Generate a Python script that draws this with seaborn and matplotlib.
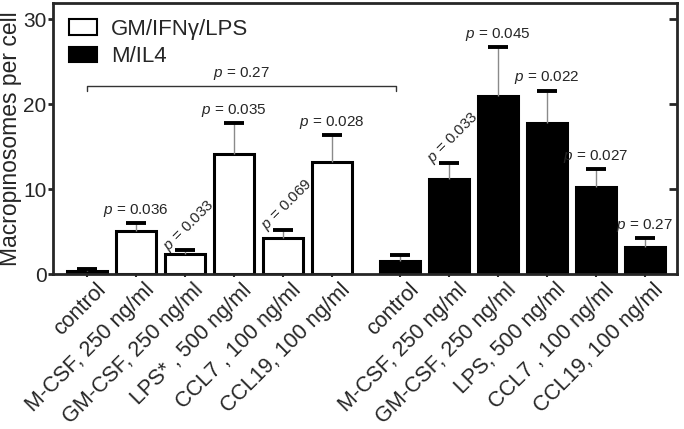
import numpy as np
import pandas as pd
import matplotlib
matplotlib.use("Agg")
import matplotlib.pyplot as plt
import seaborn as sns
from matplotlib.patches import Patch

# values (mean +/- SEM, macropinosomes per cell)
groups = ["GM/IFNγ/LPS", "M/IL4"]

labels_gm = ["control", "M-CSF, 250 ng/ml", "GM-CSF, 250 ng/ml",
             "LPS* , 500 ng/ml", "CCL7 , 100 ng/ml", "CCL19, 100 ng/ml"]
labels_m = ["control", "M-CSF, 250 ng/ml", "GM-CSF, 250 ng/ml",
            "LPS, 500 ng/ml", "CCL7 , 100 ng/ml", "CCL19, 100 ng/ml"]

means_gm = [0.4, 5.1, 2.4, 14.1, 4.2, 13.2]
sem_gm = [0.15, 0.9, 0.4, 3.7, 1.0, 3.2]
means_m = [1.6, 11.2, 20.9, 17.8, 10.3, 3.2]
sem_m = [0.6, 1.9, 5.8, 3.8, 2.1, 1.0]

pvals_gm = ["", "0.036", "0.033", "0.035", "0.069", "0.028"]
pvals_m = ["", "0.033", "0.045", "0.022", "0.027", "0.27"]
p_controls = "0.27"

# which p labels are drawn tilted
tilt_gm = [False, False, True, False, True, False]
tilt_m = [False, True, False, False, False, False]

GAP = 6.4  # where the second group starts on the x axis

df = pd.DataFrame({
    "pos": list(np.arange(6)) + list(np.arange(6) + GAP),
    "mean": means_gm + means_m,
    "sem": sem_gm + sem_m,
    "group": [groups[0]] * 6 + [groups[1]] * 6,
    "label": labels_gm + labels_m,
    "p": pvals_gm + pvals_m,
    "tilt": tilt_gm + tilt_m,
})

sns.set_style("ticks")
plt.rcParams["font.family"] = ["Liberation Sans", "DejaVu Sans"]
plt.rcParams["mathtext.fontset"] = "custom"
plt.rcParams["mathtext.it"] = "Liberation Sans:italic"
plt.rcParams["mathtext.rm"] = "Liberation Sans"

fig = plt.figure(figsize=(6.84, 4.29), dpi=100)
ax = fig.add_axes([0.0775, 0.361, 0.912, 0.632])

pal = {groups[0]: "white", groups[1]: "black"}
sns.barplot(data=df, x="pos", y="mean", hue="group", native_scale=True,
            dodge=False, palette=pal, edgecolor="black", linewidth=2.2,
            width=0.82, errorbar=None, legend=False, ax=ax)

# error bars: thin grey stem, thick black cap
tops = df["mean"] + df["sem"]
ax.vlines(df["pos"], df["mean"], tops, color="#8a8a8a", lw=1, zorder=3)
ax.plot(df["pos"], tops, ls="none", marker="_", ms=14, mew=2.8,
        color="black", zorder=4)

ptxt = lambda v: r"$\it{p}$ = " + v
for x, t, v, tilt in zip(df["pos"], tops, df["p"], df["tilt"]):
    if not v:
        continue
    if tilt:
        ax.annotate(ptxt(v), (x, t), xytext=(3, 18), textcoords="offset points",
                    ha="center", va="center", rotation=45,
                    rotation_mode="anchor", fontsize=11)
    else:
        ax.annotate(ptxt(v), (x, t), xytext=(0, 3), textcoords="offset points",
                    ha="center", va="bottom", fontsize=11)

# bracket between the two controls
yb = 22.1
x0, x1 = df["pos"].iloc[0], df["pos"].iloc[6] - 0.08
ax.plot([x0, x0, x1, x1], [yb - 0.6, yb, yb, yb - 0.6], color="#333333", lw=1)
ax.annotate(ptxt(p_controls), ((x0 + x1) / 2, yb), xytext=(0, 3),
            textcoords="offset points", ha="center", va="bottom", fontsize=11)

ax.set_xlim(-0.69, 6 + GAP - 1 + 0.65)
ax.set_ylim(0, 31.9)
ax.set_yticks([0, 10, 20, 30])
ax.set_xticks(df["pos"])
ax.set_xticklabels([])
# category names, tilted, ending a bit right of each bar centre
for x, lab in zip(df["pos"], df["label"]):
    ax.annotate(lab, (x, 0), xytext=(14, -12), textcoords="offset points",
                rotation=45, ha="right", va="baseline", rotation_mode="anchor",
                fontsize=15.5, annotation_clip=False)

ax.tick_params(axis="y", labelsize=15, width=2, length=3.6, pad=1)
ax.tick_params(axis="x", width=1.5, length=2.5)
ax.set_xlabel("")
ax.set_ylabel("Macropinosomes per cell", fontsize=16.5)
ax.yaxis.set_label_coords(-0.049, 0.5)
for s in ax.spines.values():
    s.set_linewidth(2)

sec = ax.secondary_yaxis("right")
sec.set_yticks([10, 20, 30])
sec.tick_params(direction="in", length=6, width=2, labelright=False)
sec.spines["right"].set_visible(False)

handles = [Patch(facecolor="white", edgecolor="black", lw=1.5),
           Patch(facecolor="black", edgecolor="black", lw=1.5)]
ax.legend(handles, groups, loc="upper left", bbox_to_anchor=(0.0, 1.0),
          frameon=False, fontsize=16, handlelength=1.3, handleheight=0.7,
          handletextpad=0.6, labelspacing=0.3, borderaxespad=0.3)

fig.savefig("out.png", dpi=100)
